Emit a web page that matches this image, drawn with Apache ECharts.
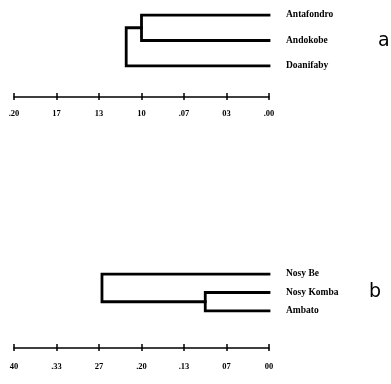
<!DOCTYPE html>
<html>
<head>
<meta charset="utf-8">
<script src="https://cdn.jsdelivr.net/npm/echarts@6/dist/echarts.min.js"></script>
<style>html,body{margin:0;padding:0;background:#fff}#c{width:391px;height:384px}</style>
</head>
<body>
<div id="c"></div>
<script>
// Panel a
var leavesA = ['Antafondro', 'Andokobe', 'Doanifaby'];
var ticksA = ['.20', '17', '13', '10', '.07', '03', '.00'];
var maxA = 0.20;
var linkA1 = [[0, 0], [0.10, 0], [0.10, 1], [0, 1]];
var linkA2 = [[0.10, 0.5], [0.112, 0.5], [0.112, 2], [0, 2]];

// Panel b
var leavesB = ['Nosy Be', 'Nosy Komba', 'Ambato'];
var ticksB = ['40', '.33', '27', '.20', '.13', '07', '00'];
var maxB = 0.40;
var linkB1 = [[0, 1], [0.10, 1], [0.10, 2], [0, 2]];
var linkB2 = [[0.10, 1.5], [0.262, 1.5], [0.262, 0], [0, 0]];

var chart = echarts.init(document.getElementById('c'));
var serif = 'Liberation Serif';

function xAx(grid, max, labels, offset, showLabels, inside, margin) {
  var step = max / 6;
  return {
    type: 'value', gridIndex: grid, min: 0, max: max, interval: step, inverse: true,
    position: 'bottom', offset: offset,
    axisLine: { show: showLabels, onZero: false, lineStyle: { color: '#000', width: 1.5 } },
    axisTick: { show: true, inside: inside, length: inside ? 4 : 3, lineStyle: { color: '#000', width: 1.5 } },
    axisLabel: {
      show: showLabels, margin: margin, color: '#000', fontFamily: serif, fontWeight: 'bold', fontSize: 8.5,
      formatter: function (v) { return labels[6 - Math.round(v / step)]; }
    },
    splitLine: { show: false }
  };
}
function yAx(grid, names, show) {
  return {
    type: 'value', gridIndex: grid, min: 0, max: 2, interval: 1, inverse: true, position: 'right', show: show,
    axisLine: { show: false }, axisTick: { show: false }, splitLine: { show: false },
    axisLabel: {
      show: true, margin: 17, color: '#000', fontFamily: serif, fontWeight: 'bold', fontSize: 9.5,
      formatter: function (v) { return names[v]; }
    }
  };
}
function link(data, xi, yi) {
  return {
    type: 'line', xAxisIndex: xi, yAxisIndex: yi, data: data, symbol: 'none', silent: true,
    lineStyle: { color: '#000', width: 2.8, join: 'miter', cap: 'square' }, animation: false
  };
}

chart.setOption({
  animation: false,
  title: [
    { text: 'a', left: 373, top: 27, textStyle: { fontFamily: 'DejaVu Sans', fontWeight: 'normal', fontSize: 19, color: '#000' } },
    { text: 'b', left: 364, top: 278, textStyle: { fontFamily: 'DejaVu Sans', fontWeight: 'normal', fontSize: 19, color: '#000' } }
  ],
  grid: [
    { left: 14, width: 255, top: 15, height: 51 },
    { left: 14, width: 255, top: 274, height: 37 },
    { left: 14, width: 255, top: 15, height: 51 },
    { left: 14, width: 255, top: 274, height: 37 }
  ],
  xAxis: [
    xAx(0, maxA, ticksA, 31, true, false, 12),
    xAx(1, maxB, ticksB, 37, true, false, 14),
    xAx(2, maxA, ticksA, 31, false, true, 12),
    xAx(3, maxB, ticksB, 37, false, true, 14)
  ],
  yAxis: [yAx(0, leavesA, true), yAx(1, leavesB, true), yAx(2, leavesA, false), yAx(3, leavesB, false)],
  series: [
    link(linkA1, 0, 0), link(linkA2, 0, 0),
    link(linkB1, 1, 1), link(linkB2, 1, 1)
  ]
});
</script>
</body>
</html>
